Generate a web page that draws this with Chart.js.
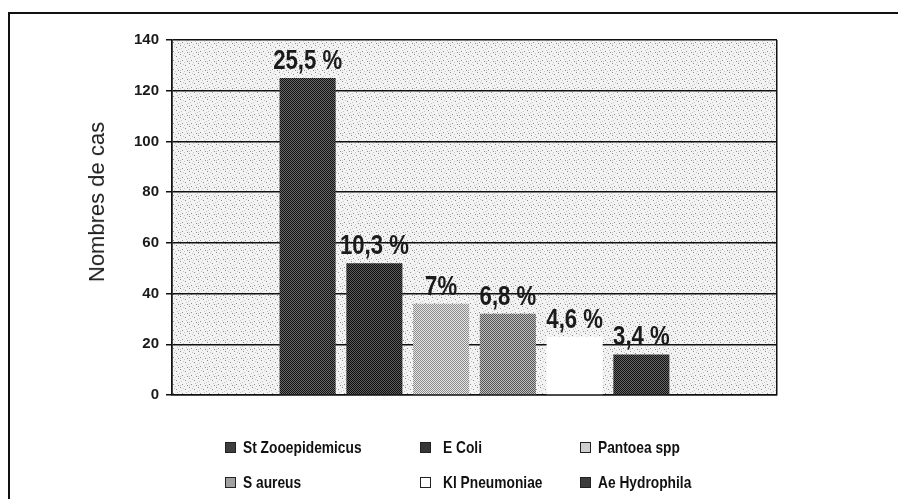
<!DOCTYPE html>
<html>
<head>
<meta charset="utf-8">
<script src="https://cdn.jsdelivr.net/npm/chart.js@4/dist/chart.umd.min.js"></script>
<style>
  html, body { margin: 0; padding: 0; background: #fff; overflow: hidden; }
  #wrap { position: relative; width: 898px; height: 499px; }
  #frame { position: absolute; left: 8px; top: 12px; width: 900px; height: 600px;
           border-top: 2px solid #111; border-left: 2px solid #111; box-sizing: border-box; }
  canvas { position: absolute; left: 0; top: 0; }
  #ytitle { position: absolute; left: 97px; top: 202px; transform: translate(-50%, -50%) rotate(-90deg);
            font-family: "Liberation Sans", Arial, sans-serif; font-size: 22px; color: #1e1e1e; white-space: nowrap; }
  .leg { position: absolute; font-family: "Liberation Sans", sans-serif;
         font-weight: bold; font-size: 17px; color: #111; white-space: nowrap; line-height: 17px;
         transform: scaleX(0.81); transform-origin: left center; }
  .box { position: absolute; width: 11px; height: 11px; box-sizing: border-box; border: 1px solid #222; }
</style>
</head>
<body>
<div id="wrap">
  <div id="frame"></div>
  <canvas id="c" width="898" height="499"></canvas>
  <div id="ytitle">Nombres de cas</div>
  <div id="legend"></div>
</div>
<script>
// ---- data ----
const seriesNames = ["St Zooepidemicus", "E Coli", "Pantoea spp", "S aureus", "Kl Pneumoniae", "Ae Hydrophila"];
const caseCounts = [125, 52, 36, 32, 23, 16];
const pctLabels = ["25,5 %", "10,3 %", "7%", "6,8 %", "4,6 %", "3,4 %"];
const yTicks = [0, 20, 40, 60, 80, 100, 120, 140];

// ---- patterns ----
function checker(a, b) {
  const c = document.createElement('canvas'); c.width = 2; c.height = 2;
  const x = c.getContext('2d');
  x.fillStyle = b; x.fillRect(0, 0, 2, 2);
  x.fillStyle = a; x.fillRect(0, 0, 1, 1); x.fillRect(1, 1, 1, 1);
  return x.createPattern(c, 'repeat');
}
function stipple() {
  const c = document.createElement('canvas'); c.width = 9; c.height = 9;
  const x = c.getContext('2d');
  x.fillStyle = '#f3f3f3'; x.fillRect(0, 0, 9, 9);
  x.fillStyle = '#8c8c8c';
  [[0,0],[5,2],[2,6],[7,7]].forEach(p => x.fillRect(p[0], p[1], 1, 1));
  x.fillStyle = '#c4c4c4';
  [[3,1],[8,4],[1,3],[6,5],[4,8],[0,7]].forEach(p => x.fillRect(p[0], p[1], 1, 1));
  return x.createPattern(c, 'repeat');
}
const fills = [
  checker('#111111', '#6a6a6a'),
  checker('#0d0d0d', '#5e5e5e'),
  checker('#8a8a8a', '#e6e6e6'),
  checker('#555555', '#c0c0c0'),
  '#ffffff',
  checker('#111111', '#666666')
];
const legendCss = ['#3e3e3e', '#363636', '#cfcfcf', '#a0a0a0', '#ffffff', '#3c3c3c'];

const bgPlugin = {
  id: 'bg',
  beforeDraw(chart) {
    const { ctx, chartArea: a } = chart;
    ctx.save(); ctx.fillStyle = stipple();
    ctx.fillRect(a.left, a.top, a.right - a.left, a.bottom - a.top);
    ctx.restore();
  }
};
const labelPlugin = {
  id: 'pct',
  afterDatasetsDraw(chart) {
    const ctx = chart.ctx;
    ctx.save();
    ctx.fillStyle = '#1a1a1a';
    ctx.font = 'bold 27px "Liberation Sans Narrow", "Liberation Sans", sans-serif';
    ctx.textAlign = 'center'; ctx.textBaseline = 'alphabetic';
    chart.data.datasets.forEach((ds, i) => {
      const el = chart.getDatasetMeta(i).data[0];
      ctx.save();
      ctx.translate(el.x, el.y - 9);
      ctx.scale(0.82, 1);
      ctx.fillText(pctLabels[i], 0, 0);
      ctx.restore();
    });
    ctx.restore();
  }
};

new Chart(document.getElementById('c'), {
  type: 'bar',
  data: {
    labels: [''],
    datasets: seriesNames.map((n, i) => ({
      label: n, data: [caseCounts[i]], backgroundColor: fills[i], borderWidth: 0
    }))
  },
  options: {
    responsive: false, animation: false,
    categoryPercentage: 0.662, barPercentage: 0.84,
    layout: { padding: { left: 0, right: 121, top: 40, bottom: 104 } },
    plugins: { legend: { display: false }, tooltip: { enabled: false } },
    scales: {
      x: {
        ticks: { display: false },
        grid: { color: '#111', lineWidth: 1.5, drawTicks: false, offset: true },
        border: { color: '#111', width: 1.5 }
      },
      y: {
        min: 0, max: 140,
        afterFit(s) { s.width = 172; },
        afterBuildTicks(s) { s.ticks = yTicks.map(v => ({ value: v })); },
        ticks: { color: '#1a1a1a', padding: 7,
                 font: { family: '"Liberation Sans Narrow", "Liberation Sans", sans-serif', weight: 'bold', size: 15 } },
        grid: { color: '#111', lineWidth: 1.5, tickLength: 6 },
        border: { color: '#111', width: 1.5 }
      }
    }
  },
  plugins: [bgPlugin, labelPlugin]
});

// ---- legend (3 columns, row-major) ----
const leg = document.getElementById('legend');
const colBox = [225, 420, 580], colText = [243, 443, 598], rowY = [448, 483];
seriesNames.forEach((n, i) => {
  const r = Math.floor(i / 3), c = i % 3;
  const b = document.createElement('div'); b.className = 'box';
  b.style.left = colBox[c] + 'px'; b.style.top = (rowY[r] - 6) + 'px';
  b.style.background = legendCss[i];
  leg.appendChild(b);
  const t = document.createElement('div'); t.className = 'leg'; t.textContent = n;
  t.style.left = colText[c] + 'px'; t.style.top = (rowY[r] - 9) + 'px';
  leg.appendChild(t);
});
</script>
</body>
</html>
